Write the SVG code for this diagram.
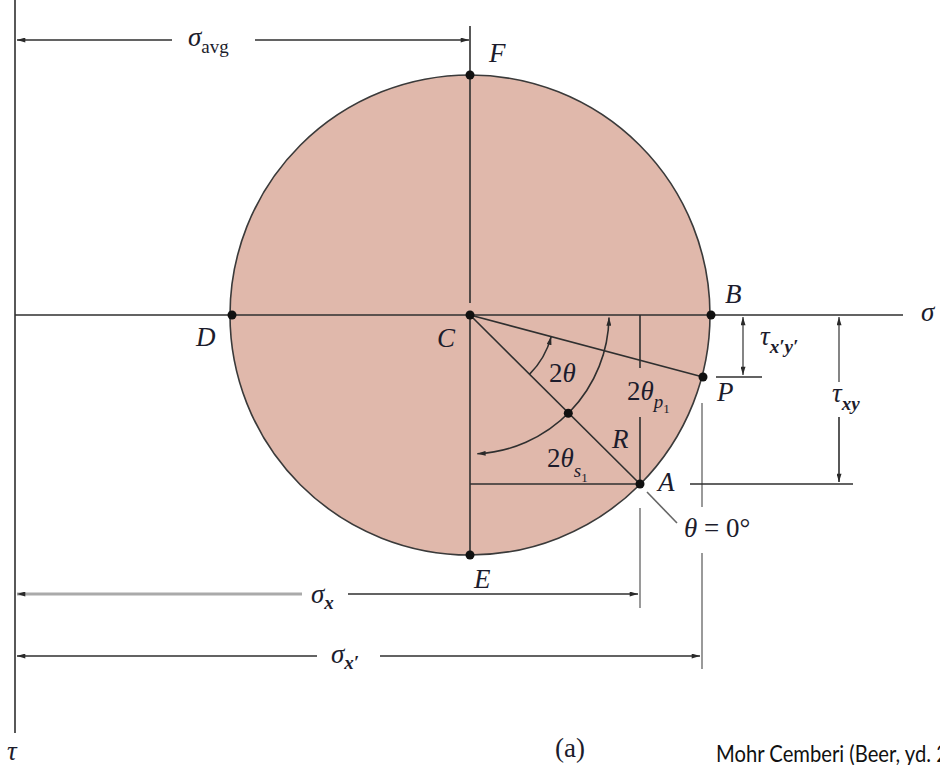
<svg xmlns="http://www.w3.org/2000/svg" width="940" height="765" viewBox="0 0 940 765">
<style>
.ln{stroke:#2f2f2f;stroke-width:1.6;fill:none}
.gr{stroke:#9a9a9a;stroke-width:2;fill:none}
.md{stroke:#666;stroke-width:1.6;fill:none}
.dot{fill:#111}
.lb{font-family:"Liberation Serif","Times New Roman",serif;font-style:italic;font-size:27px;fill:#1c1c2c}
.up{font-style:normal}
.sb{font-size:19px;font-weight:bold}
.ss{font-size:19px}
.s1{font-size:13px;font-style:normal}
.cap{font-family:Lato,"Liberation Sans",sans-serif;font-size:23px;fill:#111}
</style>
<defs>
<marker id="ah" viewBox="0 0 10 6" refX="10" refY="3" markerWidth="9" markerHeight="5" orient="auto-start-reverse" markerUnits="userSpaceOnUse">
<path d="M0,0 L10,3 L0,6 z" fill="#2a2a2a"/>
</marker>
</defs>

<g id="circle">
<circle cx="470" cy="315" r="240" fill="#e0b8ab" stroke="#3a3a3a" stroke-width="1.6"/>
</g>

<g id="connectors">
<line class="ln" x1="15" y1="0" x2="15" y2="733" stroke-width="2.2"/>
<line class="ln" x1="15" y1="315" x2="903" y2="315" stroke-width="1.8"/>
<line class="ln" x1="172" y1="40" x2="17" y2="40" marker-end="url(#ah)"/>
<line class="ln" x1="255" y1="40" x2="469" y2="40" marker-end="url(#ah)"/>
<line class="ln" x1="470" y1="26" x2="470" y2="303"/>
<line class="ln" x1="470" y1="315" x2="470" y2="555" stroke="#444"/>
<line class="ln" x1="470" y1="484" x2="640" y2="484"/>
<line class="ln" x1="640" y1="315" x2="640" y2="368" stroke="#555"/>
<line class="ln" x1="640" y1="417" x2="640" y2="484" stroke="#555"/>
<line class="ln" x1="470" y1="315" x2="640" y2="484" stroke="#1a1a1a" stroke-width="4"/>
<line class="ln" x1="470" y1="315" x2="703" y2="377" stroke-width="1.3"/>
<path class="ln" d="M529.4,374.4 A84,84 0 0 0 551.2,336.6" stroke-width="1.3" marker-end="url(#ah)"/>
<path class="ln" d="M477.3,453.8 A139,139 0 0 0 609,317.4" stroke-width="1.3" marker-start="url(#ah)" marker-end="url(#ah)"/>
<line class="gr" x1="640" y1="508" x2="640" y2="608"/>
<line class="gr" x1="702" y1="403" x2="702" y2="507"/>
<line class="gr" x1="702" y1="553" x2="702" y2="669"/>
<line class="ln" x1="716" y1="377" x2="762" y2="377"/>
<line class="md" x1="743" y1="317" x2="743" y2="375" marker-start="url(#ah)" marker-end="url(#ah)"/>
<line class="md" x1="839" y1="382" x2="839" y2="317" marker-end="url(#ah)"/>
<line class="ln" x1="839" y1="417" x2="839" y2="482" marker-end="url(#ah)"/>
<line class="ln" x1="690" y1="484" x2="853" y2="484"/>
<line class="md" x1="647" y1="492" x2="677" y2="523"/>
<line x1="302" y1="594" x2="17" y2="594" stroke="#aaa" stroke-width="3" marker-end="url(#ah)"/>
<line class="ln" x1="348" y1="594" x2="638" y2="594" marker-end="url(#ah)"/>
<line class="ln" x1="317" y1="656" x2="17" y2="656" marker-end="url(#ah)"/>
<line class="ln" x1="380" y1="656" x2="700" y2="656" marker-end="url(#ah)"/>
</g>

<g id="point-F"><circle class="dot" cx="470" cy="75" r="4.5"/><text class="lb" x="489" y="62">F</text></g>
<g id="point-D"><circle class="dot" cx="232" cy="315" r="4.5"/><text class="lb" x="196" y="346">D</text></g>
<g id="point-C"><circle class="dot" cx="470" cy="315" r="4.5"/><text class="lb" x="437" y="347">C</text></g>
<g id="point-B"><circle class="dot" cx="711" cy="315" r="4.5"/><text class="lb" x="725" y="303">B</text></g>
<g id="point-P"><circle class="dot" cx="703" cy="377" r="4.5"/><text class="lb" x="717" y="401">P</text></g>
<g id="point-A"><circle class="dot" cx="640" cy="484" r="4.5"/><text class="lb" x="658" y="491">A</text></g>
<g id="point-E"><circle class="dot" cx="470" cy="555" r="4.5"/><text class="lb" x="474" y="588">E</text></g>
<g id="point-R"><circle class="dot" cx="568.3" cy="413.3" r="4.5"/><text class="lb" x="612" y="448">R</text></g>

<g id="labels">
<text class="lb" x="188" y="46">σ<tspan class="up ss" dy="7">avg</tspan></text>
<text class="lb" x="921" y="321">σ</text>
<text class="lb" x="760" y="345">τ<tspan class="sb" dy="8">x′y′</tspan></text>
<text class="lb" x="832" y="402">τ<tspan class="sb" dy="8">xy</tspan></text>
<text class="lb" x="549" y="382"><tspan class="up">2</tspan>θ</text>
<text class="lb" x="627" y="400"><tspan class="up">2</tspan>θ<tspan class="ss" dy="8">p</tspan><tspan class="s1" dy="5">1</tspan></text>
<text class="lb" x="547" y="467"><tspan class="up">2</tspan>θ<tspan class="ss" dy="10">s</tspan><tspan class="s1" dy="5">1</tspan></text>
<text class="lb" x="684" y="537">θ<tspan class="up"> = 0°</tspan></text>
<text class="lb" x="311" y="603">σ<tspan class="sb" dy="6">x</tspan></text>
<text class="lb" x="331" y="663">σ<tspan class="sb" dy="6">x′</tspan></text>
<text class="lb" x="7" y="760">τ</text>
<text class="lb up" x="555" y="757" font-size="25">(a)</text>
<text class="cap" x="716" y="762" textLength="232" lengthAdjust="spacingAndGlyphs">Mohr Cemberi (Beer, yd. 2</text>
</g>
</svg>
